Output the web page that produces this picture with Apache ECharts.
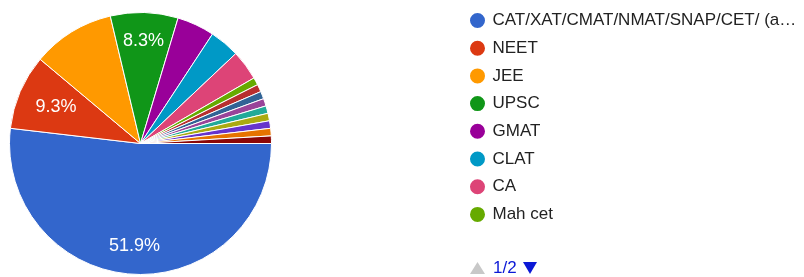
<!DOCTYPE html>
<html>
<head>
<meta charset="utf-8">
<script src="https://cdn.jsdelivr.net/npm/echarts@6/dist/echarts.min.js"></script>
<style>
  html, body { margin: 0; padding: 0; background: #fff; }
  #chart { width: 804px; height: 277px; }
</style>
</head>
<body>
<div id="chart"></div>
<script>
// exam names (only the first 8 show on legend page 1)
var categories = [
  'CAT/XAT/CMAT/NMAT/SNAP/CET/ (any MBA entrance)', 'NEET', 'JEE', 'UPSC', 'GMAT', 'CLAT', 'CA', 'Mah cet',
  'GATE', 'GRE', 'SSC', 'Bank exams', 'CUET', 'IELTS', 'NDA', 'CS'
];
// responses per exam
var counts = [56, 10, 11, 9, 5, 4, 4, 1, 1, 1, 1, 1, 1, 1, 1, 1];
// slices that get a percent label (two label rings, like the original)
var outerLabelled = ['CAT/XAT/CMAT/NMAT/SNAP/CET/ (any MBA entrance)', 'UPSC'];
var innerLabelled = ['NEET'];
var legendPage = '1/2';

var colors = ['#3366cc', '#dc3912', '#ff9900', '#109618', '#990099', '#0099c6', '#dd4477', '#66aa00',
  '#b82e2e', '#316395', '#994499', '#22aa99', '#aaaa11', '#6633cc', '#e67300', '#8b0707'];

var total = counts.reduce(function (a, b) { return a + b; }, 0);
var font = 'Arial, "Liberation Sans", sans-serif';
var pageBlue = '#0b18d6';

var pieData = categories.map(function (name, i) {
  return { name: name, value: counts[i] };
});

function labelRing(r0, names) {
  return {
    type: 'pie',
    center: [140.5, 143.5],
    radius: [r0, 131],
    startAngle: 0,
    clockwise: true,
    silent: true,
    avoidLabelOverlap: false,
    itemStyle: { color: 'rgba(0,0,0,0)' },
    label: {
      position: 'inside',
      color: '#fff',
      fontFamily: font,
      fontSize: 18,
      formatter: function (p) {
        return (p.value / total * 100).toFixed(1) + '%';
      }
    },
    labelLine: { show: false },
    emphasis: { disabled: true },
    data: categories.map(function (name, i) {
      return { name: name, value: counts[i], label: { show: names.indexOf(name) >= 0 } };
    })
  };
}

var chart = echarts.init(document.getElementById('chart'));
chart.setOption({
  animation: false,
  color: colors,
  legend: {
    orient: 'vertical',
    left: 468,
    top: 11,
    padding: 0,
    icon: 'circle',
    itemWidth: 20,
    itemHeight: 17,
    itemGap: 8.7,
    data: categories.slice(0, 8),
    textStyle: {
      fontFamily: font,
      fontSize: 17,
      color: '#222',
      width: 310,
      overflow: 'truncate',
      ellipsis: '…'
    }
  },
  // page switcher of the original legend
  graphic: [
    {
      type: 'polygon',
      shape: { points: [[470, 274], [477.5, 262], [485, 274]] },
      style: { fill: '#c8c8c8' }
    },
    {
      type: 'text',
      x: 493, y: 268,
      style: {
        text: legendPage, fill: pageBlue, font: '17px ' + font,
        verticalAlign: 'middle'
      }
    },
    {
      type: 'polygon',
      shape: { points: [[523, 262], [537, 262], [530, 274]] },
      style: { fill: pageBlue }
    }
  ],
  series: [
    {
      type: 'pie',
      center: [140.5, 143.5],
      radius: [0, 131],
      startAngle: 0,
      clockwise: true,
      avoidLabelOverlap: false,
      label: { show: false },
      labelLine: { show: false },
      emphasis: { disabled: true },
      itemStyle: { borderColor: '#fff', borderWidth: 1 },
      data: pieData
    },
    labelRing(69, outerLabelled),
    labelRing(47, innerLabelled)
  ]
});
</script>
</body>
</html>
